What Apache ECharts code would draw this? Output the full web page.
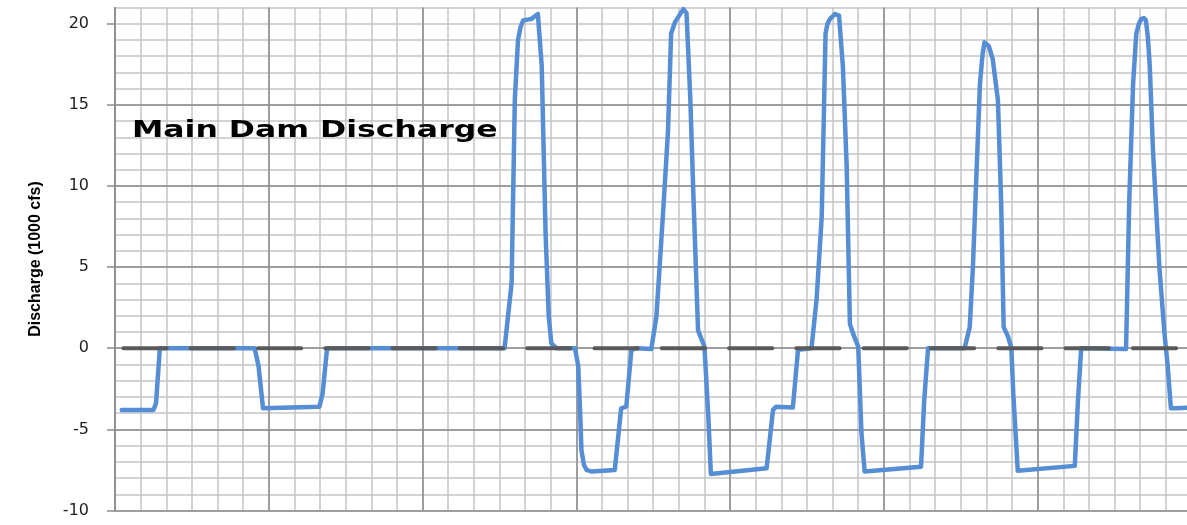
<!DOCTYPE html>
<html>
<head>
<meta charset="utf-8">
<script src="https://cdn.jsdelivr.net/npm/echarts@6/dist/echarts.min.js"></script>
<style>
html,body{margin:0;padding:0;background:#fff;}
#chart{width:1187px;height:525px;}
</style>
</head>
<body>
<div id="chart"></div>
<script>
// ---- data (hours from start, discharge in 1000 cfs) ----
const dischargeHours = [
  1.05, 6.0, 6.4, 7.0, 7.3,
  21.8, 22.4, 23.1, 23.4, 31.9, 32.4, 33.1, 33.4,
  60.8, 61.9, 62.4, 62.9, 63.3, 63.7, 65.0, 66.0, 66.6, 67.2, 67.7, 68.1, 68.9,
  71.8, 72.3, 72.6, 72.8, 73.2, 73.6, 74.4, 78.0, 79.0, 79.8, 80.6, 81.4, 83.7,
  84.5, 85.5, 86.3, 86.8, 87.4, 88.7, 89.2, 89.8, 90.3, 91.0, 92.0,
  92.6, 93.0, 101.7, 102.7, 103.2, 105.8, 106.6, 106.9, 108.7,
  109.5, 110.3, 110.9, 111.2, 111.6, 112.4, 113.0, 113.6, 114.2, 114.7, 115.2, 116.0,
  116.5, 117.0, 125.8, 126.3, 126.9, 132.6,
  133.4, 133.9, 134.4, 135.0, 135.4, 135.7, 136.0, 136.4, 137.0, 137.8, 138.3, 138.7, 139.4, 139.9,
  140.2, 140.9, 149.8, 150.3, 150.8, 157.8,
  158.3, 158.9, 159.4, 159.8, 160.2, 160.6, 160.9, 161.2, 161.5, 162.0, 163.0, 163.8, 164.3, 164.8, 165.5, 168.0
];
const dischargeValues = [
  -3.8, -3.8, -3.4, 0, 0,
  0, -1.1, -3.7, -3.75, -3.6, -2.8, 0, 0,
  0, 4.0, 15.3, 19.0, 19.8, 20.2, 20.3, 20.6, 17.4, 7.1, 1.95, 0.3, 0,
  0, -1.1, -4.0, -6.3, -7.2, -7.5, -7.6, -7.5, -3.7, -3.6, -0.1, 0, -0.05,
  1.95, 8.1, 13.3, 19.4, 20.1, 20.9, 20.65, 15.3, 9.1, 1.1, 0.1,
  -4.2, -7.75, -7.4, -3.8, -3.6, -3.65, -0.1, 0, 0,
  3.0, 8.1, 19.4, 20.0, 20.3, 20.6, 20.5, 17.4, 11.2, 1.5, 0.9, 0.1,
  -5.2, -7.6, -7.3, -3.2, 0, 0,
  1.3, 5.0, 10.2, 16.3, 18.1, 18.85, 18.9, 18.6, 17.8, 15.3, 9.1, 1.3, 0.7, 0,
  -2.8, -7.55, -7.25, -3.2, 0, -0.05,
  9.1, 16.3, 19.4, 20.0, 20.3, 20.35, 20.2, 19.2, 17.4, 12.2, 5.0, 0.9, -1.1, -3.7, -3.7, -3.65
];
const zeroLineHours = [1.3, 165.7];
const zeroLineValues = [0, 0];
const yTickValues = [-10, -5, 0, 5, 10, 15, 20];
const chartTitle = 'Main Dam Discharge';
const yAxisTitle = 'Discharge (1000 cfs)';

const minorColor = '#c4c4c4';
const majorColor = '#8c8c8c';

const chart = echarts.init(document.getElementById('chart'), null, {renderer: 'canvas'});

const option = {
  backgroundColor: '#ffffff',
  animation: false,
  grid: {left: 115, right: -4.4, top: 7.5, bottom: 14.5, containLabel: false, outerBoundsMode: 'none'},
  xAxis: [
    {type: 'value', min: 0, max: 168, interval: 4, z: 0,
     axisLine: {show: false}, axisTick: {show: false}, axisLabel: {show: false},
     splitLine: {show: true, lineStyle: {color: minorColor, width: 1.5}}},
    {type: 'value', min: 0, max: 168, interval: 24, z: 1,
     axisLine: {show: false}, axisTick: {show: false}, axisLabel: {show: false},
     splitLine: {show: true, lineStyle: {color: majorColor, width: 1.5}}}
  ],
  yAxis: [
    {type: 'value', min: -10, max: 21, interval: 1, z: 0,
     axisLine: {show: false}, axisTick: {show: false}, axisLabel: {show: false},
     splitLine: {show: true, lineStyle: {color: minorColor, width: 1.5}}},
    {type: 'value', min: -10, max: 21, interval: 5, z: 1, position: 'left',
     name: yAxisTitle, nameLocation: 'middle', nameRotate: 90, nameGap: 71,
     nameTextStyle: {fontFamily: 'Liberation Sans', fontWeight: 'bold', fontSize: 16, color: '#000'},
     axisLine: {show: true, onZero: false, lineStyle: {color: majorColor, width: 1.5}},
     axisTick: {show: true, length: 8, customValues: yTickValues, lineStyle: {color: majorColor, width: 1.5}},
     axisLabel: {show: true, margin: 26, customValues: yTickValues, fontFamily: 'DejaVu Sans', fontSize: 16, color: '#1e1e1e',
       formatter: function (v) { return yTickValues.indexOf(v) >= 0 ? String(v) : ''; }},
     splitLine: {show: true, showMaxLine: false, lineStyle: {color: majorColor, width: 1.5}}}
  ],
  graphic: [
    {type: 'text', x: 132, y: 131, scaleX: 1.37, scaleY: 1, z: 10,
     style: {text: chartTitle, font: 'bold 23px "DejaVu Sans"', fill: '#000', align: 'left', verticalAlign: 'middle'}}
  ],
  series: [
    {type: 'line', name: 'Discharge', xAxisIndex: 0, yAxisIndex: 0, z: 2,
     showSymbol: false, symbol: 'none', smooth: false,
     lineStyle: {color: '#558ED5', width: 4.5, cap: 'round', join: 'round'},
     data: dischargeHours.map((h, i) => [h, dischargeValues[i]])},
    {type: 'line', name: 'Zero', xAxisIndex: 0, yAxisIndex: 0, z: 3,
     showSymbol: false, symbol: 'none',
     lineStyle: {color: '#5a5a5a', width: 4, type: [43.3, 24], cap: 'round'},
     data: zeroLineHours.map((h, i) => [h, zeroLineValues[i]])}
  ]
};
chart.setOption(option);
</script>
</body>
</html>
